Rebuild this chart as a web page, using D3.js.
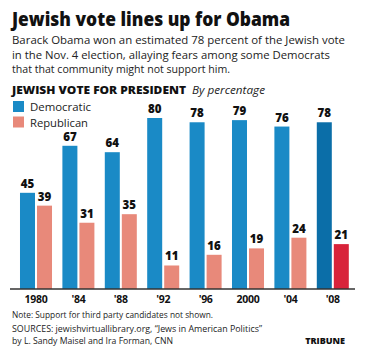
<!DOCTYPE html>
<html><head><meta charset="utf-8">
<script src="https://cdn.jsdelivr.net/npm/d3@7"></script>
<style>body{margin:0;background:#fff}svg{display:block}text{font-family:"Open Sans",sans-serif}</style>
</head><body>
<svg id="c" width="368" height="356"></svg>
<script>
const years = ["1980","'84","'88","'92","'96","2000","'04","'08"];
const democratic = [45,67,64,80,78,79,76,78];
const republican = [39,31,35,11,16,19,24,21];
const seriesNames = ["Democratic","Republican"];
const colorsDem = ["#1a8ac6","#1a8ac6","#1a8ac6","#1a8ac6","#1a8ac6","#1a8ac6","#1a8ac6","#0b6ea8"];
const colorsRep = ["#e8897a","#e8897a","#e8897a","#e8897a","#e8897a","#e8897a","#e8897a","#d8233a"];

const svg = d3.select("#c");
const x0 = d3.scaleBand().domain(years).range([14.8, 354]).paddingInner(0.245).paddingOuter(0.1225);
const x1 = d3.scaleBand().domain(seriesNames).range([0, x0.bandwidth()]).paddingInner(0.118);
const y = d3.scaleLinear().domain([0, 80]).range([289, 118]);

function txt(xp, yp, s, size, opts={}) {
  const t = svg.append("text").attr("x",xp).attr("y",yp).attr("font-size",size).attr("fill",opts.fill||"#222").text(s);
  if (opts.weight) t.attr("font-weight",opts.weight);
  if (opts.italic) t.attr("font-style","italic");
  if (opts.family) t.attr("font-family",opts.family);
  if (opts.anchor) t.attr("text-anchor",opts.anchor);
  if (opts.len) t.attr("textLength",opts.len).attr("lengthAdjust","spacingAndGlyphs");
  return t;
}

txt(12, 26, "Jewish vote lines up for Obama", 20, {weight:800, fill:"#111", len:278});
const sub = ["Barack Obama won an estimated 78 percent of the Jewish vote","in the Nov. 4 election, allaying fears among some Democrats","that that community might not support him."];
const subLen = [333, 318, 218];
sub.forEach((s,i)=>txt(12, 44+i*14.5, s, 11.5, {len:subLen[i]}));
txt(12, 94, "JEWISH VOTE FOR PRESIDENT", 11, {weight:800, fill:"#111", len:174});
txt(192, 94, "By percentage", 11, {italic:true, len:73});

const legendCols = [colorsDem[0], colorsRep[0]];
const legendLen = [61, 58];
seriesNames.forEach((n,i)=>{
  svg.append("rect").attr("x",13).attr("y",101+i*15.5).attr("width",11).attr("height",11).attr("fill",legendCols[i]);
  txt(30, 111+i*15.5, n, 11, {len:legendLen[i]});
});

const g = svg.append("g");
years.forEach((yr,i)=>{
  const vals = [democratic[i], republican[i]];
  const cols = [colorsDem[i], colorsRep[i]];
  seriesNames.forEach((s,j)=>{
    const bx = x0(yr)+x1(s);
    g.append("rect").attr("x",bx).attr("y",y(vals[j])).attr("width",x1.bandwidth()).attr("height",y(0)-y(vals[j])).attr("fill",cols[j]);
    g.append("text").attr("x",bx+x1.bandwidth()/2).attr("y",y(vals[j])-5).attr("text-anchor","middle").attr("font-size",11.5).attr("font-weight",800).attr("fill","#111").text(vals[j]);
  });
});

const ax = svg.append("g").attr("transform","translate(0,289)").call(d3.axisBottom(x0).tickSize(0).tickPadding(7));
ax.select(".domain").attr("stroke","#333").attr("stroke-width",1.5).attr("d","M10,0H355");
ax.selectAll("text").attr("font-size",10.5).attr("font-weight","bold").attr("fill","#111").attr("font-family","'DejaVu Sans Condensed','DejaVu Sans',sans-serif").attr("letter-spacing",-0.3);

txt(12, 318, "Note: Support for third party candidates not shown.", 9, {len:201});
txt(12, 332, "SOURCES: jewishvirtuallibrary.org, \u201cJews in American Politics\u201d", 9, {len:250});
txt(12, 344, "by L. Sandy Maisel and Ira Forman, CNN", 9, {len:161});
txt(345, 344, "TRIBUNE", 9, {weight:800, fill:"#111", anchor:"end"});
</script>
</body></html>
